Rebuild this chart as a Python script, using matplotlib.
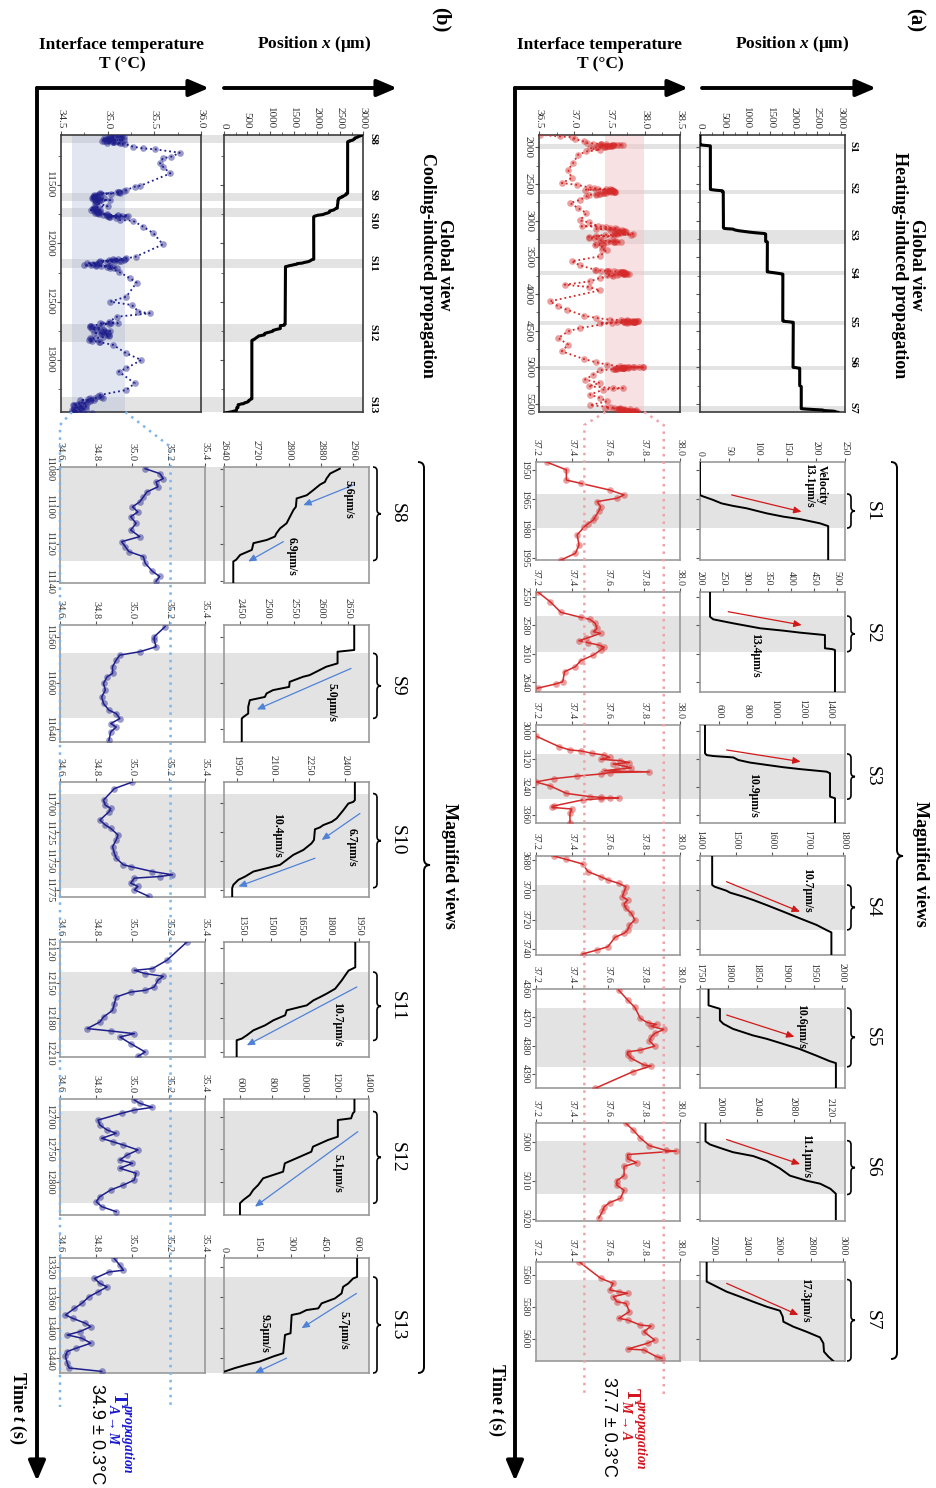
import numpy as np
import matplotlib
matplotlib.use("Agg")
import matplotlib.pyplot as plt
from matplotlib.patches import Rectangle, PathPatch, FancyArrowPatch
from matplotlib.path import Path
from matplotlib.lines import Line2D

# ====================== DATA ======================
# ---- (a) heating: magnified position (time s, position um)
S1_pos = [(1946,0),(1962.8,0),(1963.3,3),(1965.4,23),(1967.1,37),(1968.4,57),(1969.6,80),(1972.2,115),
          (1973.9,144),(1975.1,172),(1977.3,207),(1978.7,221),(1996,221)]
S2_pos = [(2545,222),(2571,222),(2573.7,229),(2577.9,273),(2583.1,332),(2585.6,383),(2587.7,420),(2590.2,474),
          (2604.1,474),(2605,490),(2605.9,496),(2650,496)]
S3_pos = [(2975,499),(3096,499),(3104,511),(3108,559),(3114,703),(3125,739),(3136,823),(3146,943),(3156,1064),
          (3164,1184),(3175,1376),(3182,1400),(3282,1400),(3289,1436),(3396,1436)]
S4_pos = [(3677,1434),(3696.6,1434),(3697.8,1441),(3700.5,1474),(3701.8,1484),(3704.5,1521),(3706.8,1549),
          (3710.2,1586),(3714.7,1633),(3719.2,1679),(3723.7,1726),(3727.1,1753),(3728.7,1767),(3744,1767)]
S5_pos = [(4360,1765),(4365.8,1765),(4367,1785),(4371.1,1785),(4372.3,1791),(4374.1,1808),(4376.4,1843),
          (4377.6,1867),(4379.4,1896),(4381.2,1925),(4383.5,1954),(4385.5,1978),(4386.2,1989),(4395,1989)]
S6_pos = [(4995,1984),(4999.8,1984),(5000.6,1989),(5001.5,2000),(5002.6,2014),(5003.6,2036),(5004.9,2051),
          (5006.8,2065),(5008.7,2076),(5010,2094),(5010.8,2109),(5012.1,2120),(5013.4,2126),(5020,2126)]
S7_pos = [(5552,2159),(5564.3,2159),(5566.4,2200),(5570.6,2282),(5573.7,2364),(5576.9,2446),(5580,2528),
          (5582.5,2610),(5586.3,2627),(5589.4,2631),(5592.5,2692),(5595.7,2774),(5599.2,2856),(5602.9,2877),
          (5608.2,2881),(5611.3,2908),(5614,2938)]

# ---- (a) magnified interface temperature (time s, T degC)
S1_T = [(1946,37.26),(1950,37.37),(1955.2,37.37),(1956.9,37.45),(1960.3,37.61),(1962.8,37.69),(1964.5,37.65),
        (1966.2,37.54),(1968.8,37.56),(1971,37.55),(1973.9,37.53),(1975.6,37.52),(1977.5,37.49),(1979,37.47),
        (1983.2,37.43),(1988.3,37.44),(1992.6,37.42),(1996,37.34)]
S2_T = [(2544.7,37.21),(2555.2,37.28),(2566.4,37.34),(2571.6,37.45),(2573.7,37.50),(2577.9,37.53),(2583.2,37.54),
        (2586.7,37.52),(2588.4,37.56),(2593.7,37.48),(2596.1,37.44),(2598.2,37.49),(2600.7,37.55),(2603.1,37.58),
        (2605.9,37.56),(2611.2,37.52),(2617.1,37.45),(2623.4,37.42),(2628.7,37.36),(2639.2,37.35),(2641.6,37.31),
        (2646,37.21)]
S3_T = [(3022,37.20),(3068,37.33),(3082,37.39),(3086,37.45),(3096,37.51),(3104,37.58),(3114,37.61),(3122,37.56),
        (3128,37.67),(3136,37.72),(3142,37.63),(3151,37.69),(3159,37.73),(3165,37.65),(3171,37.58),(3176,37.83),
        (3179,37.61),(3185,37.56),(3194,37.43),(3205,37.30),(3219,37.20),(3236,37.28),(3268,37.37),(3282,37.50),
        (3285,37.56),(3287,37.61),(3288,37.66),(3291,37.56),(3296,37.46),(3322,37.30),(3328,37.29),(3335,37.40),
        (3353,37.39),(3394,37.39)]
S4_T = [(3677,37.30),(3679.3,37.37),(3682.4,37.46),(3687.6,37.49),(3691,37.56),(3693.2,37.60),(3695.5,37.66),
        (3697.8,37.70),(3701.2,37.69),(3704.5,37.68),(3706.8,37.71),(3709.5,37.69),(3712.4,37.70),(3715.8,37.73),
        (3720.3,37.75),(3723.7,37.72),(3727.1,37.71),(3729.3,37.69),(3732,37.64),(3738.4,37.60),(3740.6,37.54),
        (3743.3,37.46)]
S5_T = [(4360.4,37.66),(4363.9,37.71),(4366.5,37.75),(4370.4,37.78),(4371.9,37.82),(4372.5,37.87),(4373.2,37.84),
        (4374.3,37.91),(4375.7,37.86),(4377,37.84),(4378.3,37.83),(4380.2,37.86),(4381.6,37.78),(4382.2,37.71),
        (4383.2,37.71),(4384.5,37.73),(4386.9,37.80),(4387.2,37.84),(4389.2,37.74),(4395.1,37.53)]
S6_T = [(4995.1,37.70),(4996.8,37.74),(4998.9,37.78),(5000.9,37.83),(5002.1,37.92),(5002.3,37.98),(5003.2,37.71),
        (5004.3,37.71),(5005.3,37.76),(5006.3,37.69),(5008.7,37.69),(5010,37.65),(5011.2,37.65),(5012.5,37.69),
        (5014.6,37.67),(5015.7,37.61),(5016.8,37.58),(5018,37.57),(5019.7,37.55)]
S7_T = [(5551.8,37.44),(5562.2,37.56),(5565.4,37.63),(5569.5,37.61),(5570.6,37.66),(5571.6,37.71),(5573.7,37.63),
        (5576.9,37.65),(5577.9,37.70),(5583.1,37.72),(5587.3,37.66),(5588.3,37.71),(5591.5,37.78),(5592.1,37.84),
        (5595.7,37.80),(5600.9,37.86),(5602.9,37.82),(5606.5,37.71),(5607.1,37.80),(5611.3,37.87),(5612.3,37.90)]

# ---- (a) global view: extra temperature samples between the events, and position plateaus
GA_T = [(1827,36.51),(1850,36.79),(1859,36.96),(1886,37.01),(1918,37.13),(1941,37.18),(1968,37.36),(1986,37.46),
        (2000,37.31),(2014,37.22),(2032,37.36),(2055,37.17),(2100,37.05),(2214,36.98),(2305,36.91),(2418,36.96),
        (2486,36.82),(2509,37.03),(2577,37.15),(2600,37.50),(2614,37.58),(2623,37.41),(2645,37.31),(2668,37.17),
        (2714,37.08),(2759,36.94),(2827,37.05),(2895,37.17),(2995,37.08),(3077,37.10),(3114,37.31),(3123,37.50),
        (3145,37.69),(3168,37.60),(3191,37.81),(3214,37.55),(3236,37.20),(3259,37.36),(3282,37.58),(3305,37.41),
        (3395,37.46),(3486,37.36),(3554,36.96),(3609,37.08),(3668,37.29),(3691,37.46),(3704,37.65),(3723,37.77),
        (3750,37.55),(3782,37.36),(3827,37.22),(3873,36.86),(3904,37.20),(3950,37.36),(4100,36.65),(4168,36.77),
        (4213,36.89),(4295,37.13),(4327,37.31),(4350,37.50),(4359,37.74),(4373,37.91),(4386,37.60),(4395,37.36),
        (4463,37.08),(4509,36.91),(4600,36.77),(4691,36.91),(4782,36.82),(4886,37.13),(4932,37.31),(4963,37.46),
        (4986,37.65),(4995,37.84),(5000,37.98),(5023,37.60),(5041,37.36),(5100,37.27),(5168,37.15),(5214,37.36),
        (5259,37.20),(5282,37.55),(5286,37.69),(5305,37.41),(5373,37.22),(5418,37.36),(5464,37.46),(5518,37.22),
        (5541,37.50),(5555,37.65),(5568,37.79),(5586,37.88),(5604,37.81)]
GA_pos_extra = [(1830,0),(5250,2126),(5262,2159)]

# ---- (b) cooling: magnified position
S8_pos = [(11079.9,2927),(11082.5,2903),(11085.2,2894),(11087,2890),(11088.4,2878),(11091.4,2861),(11094.1,2845),
          (11095.8,2820),(11100.3,2818),(11102,2812),(11109.1,2795),(11111.8,2779),(11114.4,2770),(11116.2,2766),
          (11118,2746),(11119.7,2713),(11123.3,2709),(11126,2680),(11128.6,2670),(11129.5,2663),(11141,2663)]
S9_pos = [(11550,2662),(11571.7,2662),(11573.2,2631),(11583.3,2631),(11586.2,2610),(11593.5,2579),(11594.9,2567),
          (11599.3,2542),(11603.7,2541),(11606.5,2511),(11609.4,2499),(11612.4,2496),(11615.2,2468),(11621,2465),
          (11626.8,2465),(11629.8,2456),(11631.2,2453),(11651.5,2453)]
S10_pos = [(11681.6,2441),(11697.3,2441),(11698.8,2434),(11700.2,2414),(11706,2393),(11713.1,2365),(11716,2345),
           (11718.8,2310),(11720.8,2296),(11722.5,2275),(11731.7,2271),(11734.6,2261),(11740.3,2227),(11744.6,2185),
           (11753.2,2130),(11756.1,2075),(11759,2019),(11763.3,1985),(11766.1,1957),(11770.4,1936),(11773.3,1931),
           (11781,1931)]
S11_pos = [(12114.5,1933),(12136.4,1933),(12139.3,1898),(12147.6,1864),(12154.9,1830),(12159.1,1787),(12162.1,1753),
           (12165,1718),(12169.3,1684),(12170.7,1650),(12173.6,1581),(12177.9,1573),(12182.2,1513),(12186.6,1470),
           (12190.9,1410),(12195.2,1376),(12198.1,1350),(12199.5,1324),(12214,1324)]
S12_pos = [(12672.8,1317),(12692.3,1317),(12694.8,1307),(12702.5,1296),(12705.1,1213),(12730.7,1213),(12735.8,1151),
           (12746.1,1057),(12753.8,1047),(12763.9,953),(12771.6,881),(12784.5,870),(12789.5,808),(12794.6,745),
           (12804.9,714),(12812.5,683),(12820.3,662),(12827.9,621),(12833,600),(12851,600)]
S13_pos = [(13308,600),(13332.9,600),(13335,582),(13341.6,560),(13346,537),(13354.7,530),(13361.3,500),
           (13367.8,440),(13374.4,425),(13376.6,372),(13380.9,342),(13383.1,305),(13407.2,300),(13409.4,275),
           (13433.5,267),(13437.8,222),(13444.4,162),(13448.7,102),(13453,50),(13457.5,4)]

# ---- (b) magnified interface temperature
S8_T = [(11079.9,35.07),(11082.5,35.15),(11085.2,35.17),(11087,35.13),(11089.6,35.14),(11092.3,35.08),(11095,35.06),
        (11097.6,35.04),(11100.3,35.00),(11103,35.03),(11105.6,34.99),(11109.1,35.02),(11112.7,34.99),(11116.2,35.04),
        (11118.9,34.94),(11121.5,34.96),(11124.2,34.98),(11126.9,35.06),(11130.4,35.07),(11134.8,35.11),
        (11137.5,35.15),(11140.1,35.13)]
S9_T = [(11551.4,35.18),(11560.2,35.12),(11563,35.12),(11568.9,35.13),(11573.2,35.04),(11576.1,34.93),(11580.4,34.91),
        (11586.2,34.89),(11592,34.89),(11594.9,34.86),(11600.7,34.84),(11606.5,34.85),(11612.4,34.83),(11618.1,34.84),
        (11623.9,34.87),(11626.8,34.91),(11631.2,34.93),(11635.5,34.88),(11638.5,34.91),(11642.8,34.88),(11650,34.87)]
S10_T = [(11681.6,35.00),(11687.3,34.90),(11697.3,34.84),(11701.6,34.85),(11704.5,34.88),(11707.4,34.87),(11714.5,34.82),
         (11718.8,34.85),(11721.7,34.88),(11727.4,34.92),(11731.7,34.91),(11737.5,34.89),(11743.2,34.90),(11747.5,34.91),
         (11753.2,34.95),(11754.7,34.99),(11759,35.11),(11761.8,35.22),(11763.3,35.15),(11764.7,35.01),(11769,34.99),
         (11771.9,35.03),(11774.7,35.01),(11780.5,35.09)]
S11_T = [(12114.5,35.30),(12130.3,35.19),(12137.5,35.11),(12139,35.01),(12141.8,35.07),(12144.2,35.17),(12147.6,35.14),
         (12153.4,35.12),(12156.3,35.07),(12157.8,34.99),(12162.1,34.91),(12167.8,34.90),(12173.6,34.89),(12179.4,34.84),
         (12183.7,34.82),(12189.4,34.75),(12191.5,34.88),(12193.8,35.01),(12196.7,34.93),(12202.4,34.99),(12209.7,35.07),
         (12213.4,35.03)]
S12_T = [(12674.3,35.01),(12679.4,35.04),(12685.6,35.11),(12689.7,35.01),(12694.8,34.94),(12705.1,34.81),(12712.7,34.82),
         (12720.4,34.86),(12725.5,34.91),(12733.2,34.83),(12738.4,34.89),(12743.5,34.95),(12751.1,35.03),(12758.8,34.97),
         (12766.5,34.93),(12771.6,35.00),(12779.2,34.93),(12786.9,35.02),(12797.2,35.01),(12804.9,34.95),(12812.5,34.88),
         (12822.8,34.82),(12830.5,34.80),(12838.2,34.83),(12845.9,34.91)]
S13_T = [(13308.8,34.90),(13317.6,34.93),(13324.1,34.95),(13326.4,34.87),(13335,34.79),(13341.6,34.82),(13346,34.86),
         (13352.6,34.81),(13359.1,34.76),(13367.8,34.72),(13374.4,34.68),(13383.1,34.63),(13387.5,34.67),(13394,34.74),
         (13398.5,34.77),(13405,34.71),(13409.4,34.64),(13413.7,34.72),(13420.3,34.77),(13426.8,34.69),(13431.3,34.64),
         (13437.8,34.63),(13446.5,34.64),(13453,34.65),(13457.5,34.83)]

GB_T = [(11080,35.03),(11091,35.13),(11100,34.96),(11114,35.17),(11129,35.06),(11143,34.99),(11149,35.19),(11171,35.27),
        (11186,35.38),(11194,35.51),(11223,35.77),(11257,35.68),(11270,35.59),(11314,35.56),(11343,35.59),(11400,35.67),
        (11506,35.35),(11514,35.29),(11543,35.20),(11560,35.10),(11571,34.92),(11586,34.85),(11600,34.88),(11614,34.96),
        (11629,35.03),(11643,34.88),(11700,34.85),(11714,34.92),(11737,34.87),(11751,34.99),(11766,35.10),(11771,35.20),
        (11800,35.13),(11806,35.27),(11857,35.38),(11914,35.49),(12009,35.59),(12129,35.20),(12137,35.06),(12149,34.92),
        (12171,34.78),(12186,34.88),(12194,35.03),(12209,35.10),(12243,35.12),(12300,35.24),(12337,35.31),(12457,35.20),
        (12500,35.03),(12529,35.26),(12586,35.33),(12600,35.45),(12629,35.10),(12686,34.92),(12714,34.81),(12743,34.96),
        (12771,34.85),(12786,34.99),(12814,34.81),(12843,34.92),(12871,35.06),(12943,35.20),(13000,35.36),(13071,35.20),
        (13100,35.12),(13200,35.29),(13257,35.20),(13300,34.92),(13329,34.81),(13343,34.71),(13371,34.78),(13386,34.64),
        (13414,34.71),(13429,34.62),(13443,34.74)]
GB_pos_extra = [(11071,2975)]

# ---- event windows (time s)
A_labels = ["S1", "S2", "S3", "S4", "S5", "S6", "S7"]
B_labels = ["S8", "S9", "S10", "S11", "S12", "S13"]
A_global_bands = [(1950,2018),(2577,2632),(3123,3314),(3686,3741),(4363,4418),(4977,5032),(5531,5609)]
B_global_bands = [(11071,11143),(11566,11637),(11700,11777),(12137,12209),(12691,12849),(13320,13449)]
A_mag_bands = [(1962.3,1979.7),(2570.2,2607.7),(3099,3293),(3696.6,3727),(4366.7,4387.5),(4999.6,5013.6),(5563,5614)]
B_mag_bands = [(11079,11129),(11574.6,11631),(11691.6,11773),(12140.5,12199.7),(12692,12833),(13333,13460)]

# ---- temperature windows
A_T_band = (37.44, 37.99)       # 37.7 +/- 0.3 (global view)
A_T_lines = (37.47, 37.91)      # dotted guides in magnified views
B_T_band = (34.62, 35.19)       # 34.9 +/- 0.3
B_T_lines = (34.60, 35.21)

# ---- axis ranges and ticks
A_tlims = [(1946,1996),(2545,2650),(2975,3395),(3677,3744),(4360,4395),(4995,5020.5),(5552,5614)]
A_xlims = [(0,250),(200,518),(463,1508),(1400,1805),(1750,2005),(1978,2136),(2118,3010)]
A_tticks = [[1950,1965,1980,1995],[2550,2580,2610,2640],[3000,3120,3240,3360],[3680,3700,3720,3740],
            [4360,4370,4380,4390],[5000,5010,5020],[5560,5580,5600]]
A_xticks = [[0,50,100,150,200,250],[200,250,300,350,400,450,500],[600,800,1000,1200,1400],
            [1400,1500,1600,1700,1800],[1750,1800,1850,1900,1950,2000],[2000,2040,2080,2120],
            [2200,2400,2600,2800,3000]]
A_Tticks = [37.2, 37.4, 37.6, 37.8, 38.0]
B_tlims = [(11079,11141),(11550,11651.5),(11681.6,11781),(12114.5,12214),(12672.8,12851),(13308,13459.6)]
B_xlims = [(2640,3000),(2420,2690),(1897,2501),(1259,2005),(500,1410),(0,655)]
B_tticks = [[11080,11100,11120,11140],[11560,11600,11640],[11700,11725,11750,11775],[12120,12150,12180,12210],
            [12700,12750,12800],[13320,13360,13400,13440]]
B_xticks = [[2640,2720,2800,2880,2960],[2450,2500,2550,2600,2650],[1950,2100,2250,2400],
            [1350,1500,1650,1800,1950],[600,800,1000,1200,1400],[0,150,300,450,600]]
B_Tticks = [34.6, 34.8, 35.0, 35.2, 35.4]

# ---- velocity annotations: (text, text (x,t), arrow start (x,t), arrow end (x,t))
A_vel = [[("Velocity\n13.1μm/s", (199,1957.7), (54.6,1962.8), (175,1971.4))],
         [("13.4μm/s", (321,2611), (262,2565.7), (423,2579.7))],
         [("10.9μm/s", (845,3275), (655,3082), (1188,3132))],
         [("10.7μm/s", (1698,3700), (1474,3694.4), (1679,3714.7))],
         [("10.6μm/s", (1928,4373.3), (1797,4369.2), (1916,4376.9))],
         [("11.1μm/s", (2094,5003.6), (2007,4999.3), (2087,5005.7))],
         [("17.3μm/s", (2764,5575.8), (2282,5565.4), (2723,5585.2))]]
B_vel = [[("5.6μm/s", (2948,11096.5), (2960,11088.7), (2836.5,11099.4)),
          ("6.9μm/s", (2808,11126.9), (2787,11118.9), (2700,11129.5))],
         [("5.0μm/s", (2619,11617), (2656,11587.7), (2481,11623.3))],
         [("6.7μm/s", (2427,11738), (2462,11708.8), (2303,11731.7)),
          ("10.4μm/s", (2116,11727.4), (2275,11747.5), (1957,11771.9))],
         [("10.7μm/s", (1838,12185.5), (1941,12153.4), (1376,12203.9))],
         [("5.1μm/s", (1213,12786.9), (1338,12723), (693.5,12838.2))],
         [("5.7μm/s", (537,13403.5), (597,13354.7), (349.5,13400.6)),
          ("9.5μm/s", (184.5,13408), (282,13440), (139.5,13459.6))]]

# ====================== STYLE ======================
plt.rcParams['font.family'] = ['Liberation Serif', 'DejaVu Serif']
plt.rcParams['mathtext.fontset'] = 'custom'
plt.rcParams['mathtext.rm'] = 'Liberation Serif:bold'
plt.rcParams['mathtext.it'] = 'Liberation Serif:italic:bold'
plt.rcParams['mathtext.bf'] = 'Liberation Serif:bold'

RED = '#d42a2a'
NAVY = '#1f1f8c'
GRAY_BAND = '#e3e3e3'
RED_ARROW = '#d01818'
BLUE_ARROW = '#4f82d6'

W, H = 937, 1488
fig = plt.figure(figsize=(W / 100, H / 100), dpi=100)
fig.patch.set_facecolor('white')


def R(x0, x1, y0, y1):
    return [x0 / W, 1 - y1 / H, (x1 - x0) / W, (y1 - y0) / H]


def F(x, y):
    return (x / W, 1 - y / H)


def to_fig(ax, x, y):
    return fig.transFigure.inverted().transform(ax.transData.transform((x, y)))


def setup(ax, xlim, tlim, xticks, tticks, xfmt, tlabels=True, spine='#999999', fs=7,
          xminor=None, tminor=None):
    ax.set_facecolor('none')
    ax.set_xlim(*xlim)
    ax.set_ylim(tlim[1], tlim[0])
    ax.xaxis.tick_top()
    ax.set_xticks(xticks)
    ax.set_xticklabels([xfmt.format(v) for v in xticks], rotation=-90, fontsize=fs, color='#333333')
    ax.set_yticks(tticks)
    if tlabels:
        ax.set_yticklabels([str(v) for v in tticks], rotation=-90, va='center', fontsize=fs, color='#333333')
    else:
        ax.set_yticklabels([])
    if xminor is not None:
        ax.set_xticks(xminor, minor=True)
    if tminor is not None:
        ax.set_yticks(tminor, minor=True)
    ax.tick_params(axis='both', which='major', length=3, width=0.8, color='#555555', pad=1.5)
    ax.tick_params(axis='both', which='minor', length=2, width=0.6, color='#555555')
    for s in ax.spines.values():
        s.set_color(spine)
        s.set_linewidth(1.2)


def band(axT, axP, t0, t1, color):
    hi, lo = axT.get_ylim()
    t0 = max(t0, lo)
    t1 = min(t1, hi)
    x0 = axT.get_position().x0
    x1 = axP.get_position().x1
    xl = axT.get_xlim()[0]
    y0 = to_fig(axT, xl, t0)[1]
    y1 = to_fig(axT, xl, t1)[1]
    fig.add_artist(Rectangle((x0, min(y0, y1)), x1 - x0, abs(y1 - y0), transform=fig.transFigure,
                             facecolor=color, edgecolor='none', zorder=-5))
    return (1 - y0) * H, (1 - y1) * H


def brace(x, y0, y1, w, ym=None, lw=1.3):
    if ym is None:
        ym = (y0 + y1) / 2
    pts = [(x - w, y0), (x, y0), (x, y0 + w), (x, ym - w), (x, ym), (x + w, ym), (x, ym),
           (x, ym + w), (x, y1 - w), (x, y1), (x - w, y1)]
    codes = [Path.MOVETO, Path.CURVE3, Path.CURVE3, Path.LINETO, Path.CURVE3, Path.CURVE3,
             Path.CURVE3, Path.CURVE3, Path.LINETO, Path.CURVE3, Path.CURVE3]
    fig.add_artist(PathPatch(Path([F(*p) for p in pts], codes), facecolor='none', edgecolor='k',
                             lw=lw, transform=fig.transFigure, zorder=6))


def farrow(p0, p1, lw=2.8):
    fig.add_artist(FancyArrowPatch(F(*p0), F(*p1), transform=fig.transFigure,
                                   arrowstyle='-|>,head_length=0.75,head_width=0.32', mutation_scale=16,
                                   lw=lw, color='k', shrinkA=0, shrinkB=0, zorder=8))


def plot_T(ax, pairs, color, ls='-', lw=1.0, ms=4.5, alpha=0.45):
    t, v = zip(*pairs)
    ax.plot(v, t, ls, color=color, lw=lw, zorder=3)
    ax.plot(v, t, 'o', color=color, ms=ms, alpha=alpha, mec='none', zorder=4)


def plot_pos(ax, pairs, lw=1.3):
    t, v = zip(*pairs)
    ax.plot(v, t, '-', color='k', lw=lw, zorder=3, solid_joinstyle='round')


def build(side):
    if side == 'a':
        pos_sets = [S1_pos, S2_pos, S3_pos, S4_pos, S5_pos, S6_pos, S7_pos]
        T_sets = [S1_T, S2_T, S3_T, S4_T, S5_T, S6_T, S7_T]
        g_extra, gpos_extra = GA_T, GA_pos_extra
        labels, gbands, mbands = A_labels, A_global_bands, A_mag_bands
        tlims, xlims, tticks, xticks, Tticks = A_tlims, A_xlims, A_tticks, A_xticks, A_Tticks
        vel, T_band, T_lines = A_vel, A_T_band, A_T_lines
        col, arr_col = RED, RED_ARROW
        band_col, band_alpha = '#f0c4c9', 0.5
        gT = (539.3, 680); gP = (700, 845); gtlim = (1830, 5610); gTlim = (36.5, 38.5); gPlim = (0, 3092)
        gtt = list(range(2000, 5501, 500)); gtm = list(range(2000, 5601, 250))
        gTt = [36.5, 37.0, 37.5, 38.0, 38.5]; gTm = [36.75, 37.25, 37.75, 38.25]
        mT = (535.7, 680); mP = (700, 845)
        mrows = [(462, 560), (592, 692), (725, 823), (856, 955), (989, 1088), (1123, 1221), (1262, 1361)]
        glab_x, slab_x, sbr_x, big_br = 848, 872, 851, (897, 462, 1359, 856)
        glab_y = [147, 188, 235, 273, 322, 362, 408]
        join_y, end_y = (425, 425), 1397
        line_col = '#f0a2aa'
        Tmag = (37.2, 38.0)
        mfs = 7
    else:
        pos_sets = [S8_pos, S9_pos, S10_pos, S11_pos, S12_pos, S13_pos]
        T_sets = [S8_T, S9_T, S10_T, S11_T, S12_T, S13_T]
        g_extra, gpos_extra = GB_T, GB_pos_extra
        labels, gbands, mbands = B_labels, B_global_bands, B_mag_bands
        tlims, xlims, tticks, xticks, Tticks = B_tlims, B_xlims, B_tticks, B_xticks, B_Tticks
        vel, T_band, T_lines = B_vel, B_T_band, B_T_lines
        col, arr_col = NAVY, BLUE_ARROW
        band_col, band_alpha = '#aab8d6', 0.35
        gT = (60.7, 201.3); gP = (224, 363.3); gtlim = (11071, 13446); gTlim = (34.5, 36.0); gPlim = (0, 3000)
        gtt = [11500, 12000, 12500, 13000]; gtm = list(range(11250, 13451, 250))
        gTt = [34.5, 35.0, 35.5, 36.0]; gTm = [34.75, 35.25, 35.75]
        mT = (60, 205); mP = (224, 369.3)
        mrows = [(467, 583), (625, 742), (782, 897), (942, 1057), (1099, 1215), (1258, 1373)]
        glab_x, slab_x, sbr_x, big_br = 368, 397, 377, (424, 462, 1373, 865)
        glab_y = [139, 195, 221, 263, 333, 405]
        join_y, end_y = (425, 447), 1407
        line_col = '#7cb6ea'
        Tmag = (34.6, 35.4)
        mfs = 7.5

    # ---------- global view ----------
    axGT = fig.add_axes(R(gT[0], gT[1], 135, 412))
    axGP = fig.add_axes(R(gP[0], gP[1], 135, 412))
    setup(axGT, gTlim, gtlim, gTt, gtt, '{:.1f}', True, spine='#3c3c3c', fs=8, xminor=gTm, tminor=gtm)
    setup(axGP, gPlim, gtlim, list(range(0, 3001, 500)), gtt, '{:d}', False, spine='#3c3c3c', fs=8,
          xminor=list(range(0, 3001, 250)), tminor=gtm)
    axGT.axvspan(T_band[0], T_band[1], color=band_col, alpha=band_alpha, lw=0, zorder=0.5)

    allT = list(g_extra)
    for s in T_sets:
        allT += list(s)
    allT.sort(key=lambda p: p[0])
    tt, vv = zip(*allT)
    axGT.plot(vv, tt, ':', color=col, lw=1.3, zorder=3)
    axGT.plot(vv, tt, 'o', color=col, ms=4.8, alpha=0.45, mec='none', zorder=4)

    allP = list(gpos_extra)
    for s in pos_sets:
        allP += list(s)
    allP.sort(key=lambda p: p[0])
    plot_pos(axGP, allP, lw=2.2)

    for lab, (t0, t1), ly in zip(labels, gbands, glab_y):
        band(axGT, axGP, t0, t1, GRAY_BAND)
        fig.text(*F(glab_x, ly), lab, rotation=-90, ha='left', va='center', fontsize=8,
                 fontweight='bold')

    # ---------- magnified views ----------
    axT_first = None
    for i, (y0, y1) in enumerate(mrows):
        axT = fig.add_axes(R(mT[0], mT[1], y0, y1))
        axP = fig.add_axes(R(mP[0], mP[1], y0, y1))
        if axT_first is None:
            axT_first = axT
        setup(axT, Tmag, tlims[i], Tticks, tticks[i], '{:.1f}', True, fs=mfs)
        setup(axP, xlims[i], tlims[i], xticks[i], tticks[i], '{:d}', False, fs=mfs)
        plot_T(axT, T_sets[i], col, lw=1.1, ms=4.8)
        plot_pos(axP, pos_sets[i], lw=1.4)
        for txt, tp, a0, a1 in vel[i]:
            axP.annotate('', xy=a1, xytext=a0,
                         arrowprops=dict(arrowstyle='-|>,head_length=0.45,head_width=0.2', color=arr_col,
                                         lw=0.9, shrinkA=0, shrinkB=0, mutation_scale=10), zorder=5)
            axP.text(tp[0], tp[1], txt, rotation=-90, ha='center', va='center', fontsize=8.5,
                     fontweight='bold', linespacing=1.0, zorder=6)
        py0, py1 = band(axT, axP, mbands[i][0], mbands[i][1], GRAY_BAND)
        top, bot = min(py0, py1), max(py0, py1)
        brace(sbr_x, top, bot, 4, lw=1.2)
        fig.text(slab_x / W, 1 - 0.5 * (top + bot) / H, labels[i], rotation=-90, ha='center',
                 va='center', fontsize=14)

    # big brace around magnified views
    brace(big_br[0], big_br[1], big_br[2], 6, ym=big_br[3], lw=1.4)

    # dotted guides from the global band to the magnified views
    gbottom = axGT.get_ylim()[0]
    for Tg, Tm, jy in zip(T_band, T_lines, join_y):
        xg, yg = to_fig(axGT, Tg, gbottom)
        xm = to_fig(axT_first, Tm, tlims[0][0])[0]
        fig.add_artist(Line2D([xg, xm, xm], [yg, F(0, jy)[1], F(0, end_y)[1]], transform=fig.transFigure,
                              color=line_col, lw=1.8, ls=(0, (1, 2)), zorder=10))


build('a')
build('b')

# ====================== FRAME, ARROWS AND TEXT ======================
for (xv, x_end_T, xp0, xp1) in [(515, 688, 702, 876), (37, 209, 224, 397)]:
    farrow((xv, 88), (xv, 1481))
    farrow((xv, 88), (x_end_T, 88))
    farrow((xp0, 88), (xp1, 88))

fig.text(*F(915, 20), '(a)', rotation=-90, ha='center', va='center', fontsize=15, fontweight='bold')
fig.text(*F(441, 20), '(b)', rotation=-90, ha='center', va='center', fontsize=15, fontweight='bold')
fig.text(*F(908, 265), 'Global view\nHeating-induced propagation', rotation=-90, ha='center', va='center',
         fontsize=13, fontweight='bold', multialignment='center', linespacing=1.05)
fig.text(*F(436, 265), 'Global view\nCooling-induced propagation', rotation=-90, ha='center', va='center',
         fontsize=13, fontweight='bold', multialignment='center', linespacing=1.05)
fig.text(*F(921, 864), 'Magnified views', rotation=-90, ha='center', va='center', fontsize=13,
         fontweight='bold')
fig.text(*F(450, 866), 'Magnified views', rotation=-90, ha='center', va='center', fontsize=13,
         fontweight='bold')

for cx in (792, 314):
    fig.text(*F(cx, 44), r'Position $\mathit{x}$ (μm)', ha='center', va='center', fontsize=12.5,
             fontweight='bold')
for cx in (600, 122):
    fig.text(*F(cx, 55), 'Interface temperature\nT (°C)', ha='center', va='center', fontsize=12.5,
             fontweight='bold', multialignment='center', linespacing=1.3)

fig.text(*F(497, 1400), r'Time $\mathit{t}$ (s)', rotation=-90, ha='center', va='center', fontsize=13,
         fontweight='bold')
fig.text(*F(18, 1408), r'Time $\mathit{t}$ (s)', rotation=-90, ha='center', va='center', fontsize=13,
         fontweight='bold')

fig.text(*F(633, 1428), r'$\mathbf{T}^{\mathit{propagation}}_{\mathit{M\rightarrow A}}$', rotation=-90,
         ha='center', va='center', fontsize=14, color='#d4141e')
fig.text(*F(609, 1427), '37.7 ± 0.3°C', rotation=-90, ha='center', va='center', fontsize=13,
         family=['Liberation Sans', 'DejaVu Sans'])
fig.text(*F(120, 1432), r'$\mathbf{T}^{\mathit{propagation}}_{\mathit{A\rightarrow M}}$', rotation=-90,
         ha='center', va='center', fontsize=14, color='#1a1ad0')
fig.text(*F(97, 1434), '34.9 ± 0.3°C', rotation=-90, ha='center', va='center', fontsize=13,
         family=['Liberation Sans', 'DejaVu Sans'])

fig.savefig('out.png', dpi=100, facecolor='white')
